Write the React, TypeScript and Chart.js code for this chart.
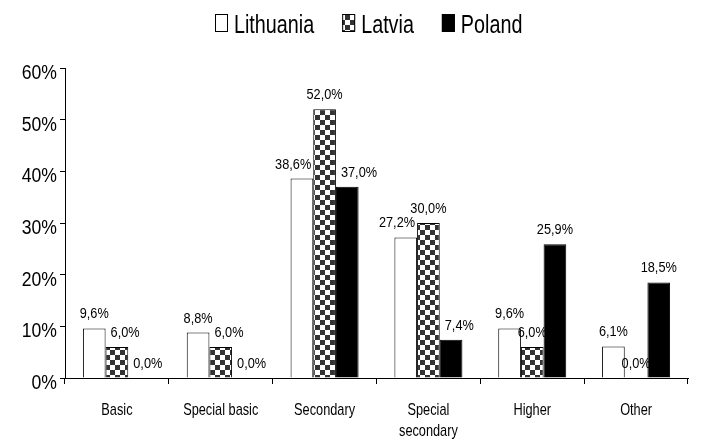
import React, { useEffect, useRef } from "react";
import { Chart, registerables } from "chart.js";

Chart.register(...registerables);

const categories: (string | string[])[] = [
  "Basic",
  "Special basic",
  "Secondary",
  ["Special", "secondary"],
  "Higher",
  "Other",
];
const seriesNames = ["Lithuania", "Latvia", "Poland"];
const lithuania = [9.6, 8.8, 38.6, 27.2, 9.6, 6.1];
const latvia = [6.0, 6.0, 52.0, 30.0, 6.0, 0.0];
const poland = [0.0, 0.0, 37.0, 7.4, 25.9, 18.5];
const yTicks = [0, 10, 20, 30, 40, 50, 60];

const FONT = '"Liberation Sans", Arial, sans-serif';

function makeChecker(): CanvasPattern | string {
  const c = document.createElement("canvas");
  c.width = 10;
  c.height = 10;
  const g = c.getContext("2d");
  if (!g) return "#777";
  g.fillStyle = "#ffffff";
  g.fillRect(0, 0, 10, 10);
  g.fillStyle = "#333333";
  g.fillRect(0, 0, 5, 5);
  g.fillRect(5, 5, 5, 5);
  const p = g.createPattern(c, "repeat");
  return p || "#777";
}

const fmt = (v: number) => v.toFixed(1).replace(".", ",") + "%";

function drawScaled(ctx: CanvasRenderingContext2D, text: string, x: number, y: number, align: CanvasTextAlign, sx: number) {
  ctx.save();
  ctx.translate(x, y);
  ctx.scale(sx, 1);
  ctx.textAlign = align;
  ctx.textBaseline = "alphabetic";
  ctx.fillText(text, 0, 0);
  ctx.restore();
}

export default function App() {
  const ref = useRef<HTMLCanvasElement | null>(null);

  useEffect(() => {
    const canvas = ref.current;
    if (!canvas) return;
    const checker = makeChecker();
    const fills: (string | CanvasPattern)[] = ["#ffffff", checker, "#000000"];

    const textPlugin = {
      id: "textPlugin",
      afterDraw(chart: any) {
        const ctx: CanvasRenderingContext2D = chart.ctx;
        ctx.save();
        ctx.fillStyle = "#000";

        // y tick labels
        const ys = chart.scales.y;
        ctx.font = `20px ${FONT}`;
        ys.ticks.forEach((t: any) => {
          const py = ys.getPixelForValue(t.value);
          drawScaled(ctx, t.value + "%", 57, py + 11, "right", 0.88);
        });

        // x category labels
        const xs = chart.scales.x;
        ctx.font = `17px ${FONT}`;
        (chart.data.labels as any[]).forEach((lab: any, i: number) => {
          const px = xs.getPixelForValue(i);
          const lines = Array.isArray(lab) ? lab : [lab];
          lines.forEach((ln: string, li: number) => {
            drawScaled(ctx, ln, px, 415 + li * 21, "center", 0.75);
          });
        });

        // data labels
        const dsx = 0.85;
        ctx.font = `15px ${FONT}`;
        const metas = chart.data.datasets.map((_: any, di: number) => chart.getDatasetMeta(di));
        chart.data.datasets.forEach((ds: any, di: number) => {
          metas[di].data.forEach((el: any, i: number) => {
            const v = ds.data[i];
            const txt = fmt(v);
            const w = ctx.measureText(txt).width * dsx;
            let cx = el.x;
            const left = di > 0 ? { v: chart.data.datasets[di - 1].data[i], el: metas[di - 1].data[i] } : null;
            const right = di < chart.data.datasets.length - 1 ? { v: chart.data.datasets[di + 1].data[i], el: metas[di + 1].data[i] } : null;
            const leftBlocked = !!left && left.v > v;
            const rightBlocked = !!right && right.v > v;
            if (leftBlocked && !rightBlocked && left) {
              const edge = left.el.x + left.el.width / 2 + 5;
              cx = Math.max(cx, edge + w / 2);
            } else if (rightBlocked && !leftBlocked && right) {
              const edge = right.el.x - right.el.width / 2 - 2;
              cx = Math.min(cx, edge - w / 2);
            }
            drawScaled(ctx, txt, cx, el.y - 10, "center", dsx);
          });
        });

        // legend
        const lsx = 0.79;
        ctx.font = `25px ${FONT}`;
        const boxW = 13;
        const boxH = 18;
        const gapBox = 6;
        const gapItem = 28;
        const widths = seriesNames.map((n) => ctx.measureText(n).width * lsx);
        let total = 0;
        widths.forEach((w, i) => {
          total += boxW + gapBox + w + (i < widths.length - 1 ? gapItem : 0);
        });
        let x = Math.round(369 - total / 2);
        const top = 14;
        const baseline = 33;
        seriesNames.forEach((n, i) => {
          ctx.fillStyle = fills[i];
          ctx.fillRect(x, top, boxW, boxH);
          ctx.strokeStyle = "#000";
          ctx.lineWidth = 1;
          ctx.strokeRect(x + 0.5, top + 0.5, boxW - 1, boxH - 1);
          ctx.fillStyle = "#000";
          drawScaled(ctx, n, x + boxW + gapBox, baseline, "left", lsx);
          x += boxW + gapBox + widths[i] + gapItem;
        });
        ctx.restore();
      },
    };

    const chart = new Chart(canvas, {
      type: "bar",
      data: {
        labels: categories as any,
        datasets: [
          { label: seriesNames[0], data: lithuania, backgroundColor: fills[0] as any, borderColor: "#000", borderWidth: 1 },
          { label: seriesNames[1], data: latvia, backgroundColor: fills[1] as any, borderColor: "#000", borderWidth: 1 },
          { label: seriesNames[2], data: poland, backgroundColor: fills[2] as any, borderColor: "#000", borderWidth: 1 },
        ],
      },
      options: {
        responsive: false,
        animation: false,
        devicePixelRatio: 1,
        categoryPercentage: 0.655,
        barPercentage: 1,
        layout: { padding: { top: 68, right: 13, left: 0, bottom: 0 } },
        plugins: {
          legend: { display: false },
          tooltip: { enabled: false },
        },
        scales: {
          x: {
            offset: true,
            grid: {
              offset: true,
              drawOnChartArea: false,
              drawTicks: true,
              tickLength: 6,
              color: "#000",
              lineWidth: 1,
            },
            border: { display: true, color: "#000", width: 1 },
            ticks: { display: false, autoSkip: false },
            afterFit: (s: any) => {
              s.height = 63;
            },
          },
          y: {
            min: 0,
            max: 60,
            afterBuildTicks: (s: any) => {
              s.ticks = yTicks.map((v) => ({ value: v }));
            },
            grid: {
              drawOnChartArea: false,
              drawTicks: true,
              tickLength: 5,
              color: "#000",
              lineWidth: 1,
            },
            border: { display: true, color: "#000", width: 1 },
            ticks: { display: false },
            afterFit: (s: any) => {
              s.width = 65;
            },
          },
        },
      } as any,
      plugins: [textPlugin],
    });

    return () => chart.destroy();
  }, []);

  return (
    <div style={{ position: "fixed", left: 0, top: 0, width: 701, height: 441, background: "#fff" }}>
      <canvas ref={ref} width={701} height={441} style={{ width: 701, height: 441, display: "block" }} />
    </div>
  );
}
